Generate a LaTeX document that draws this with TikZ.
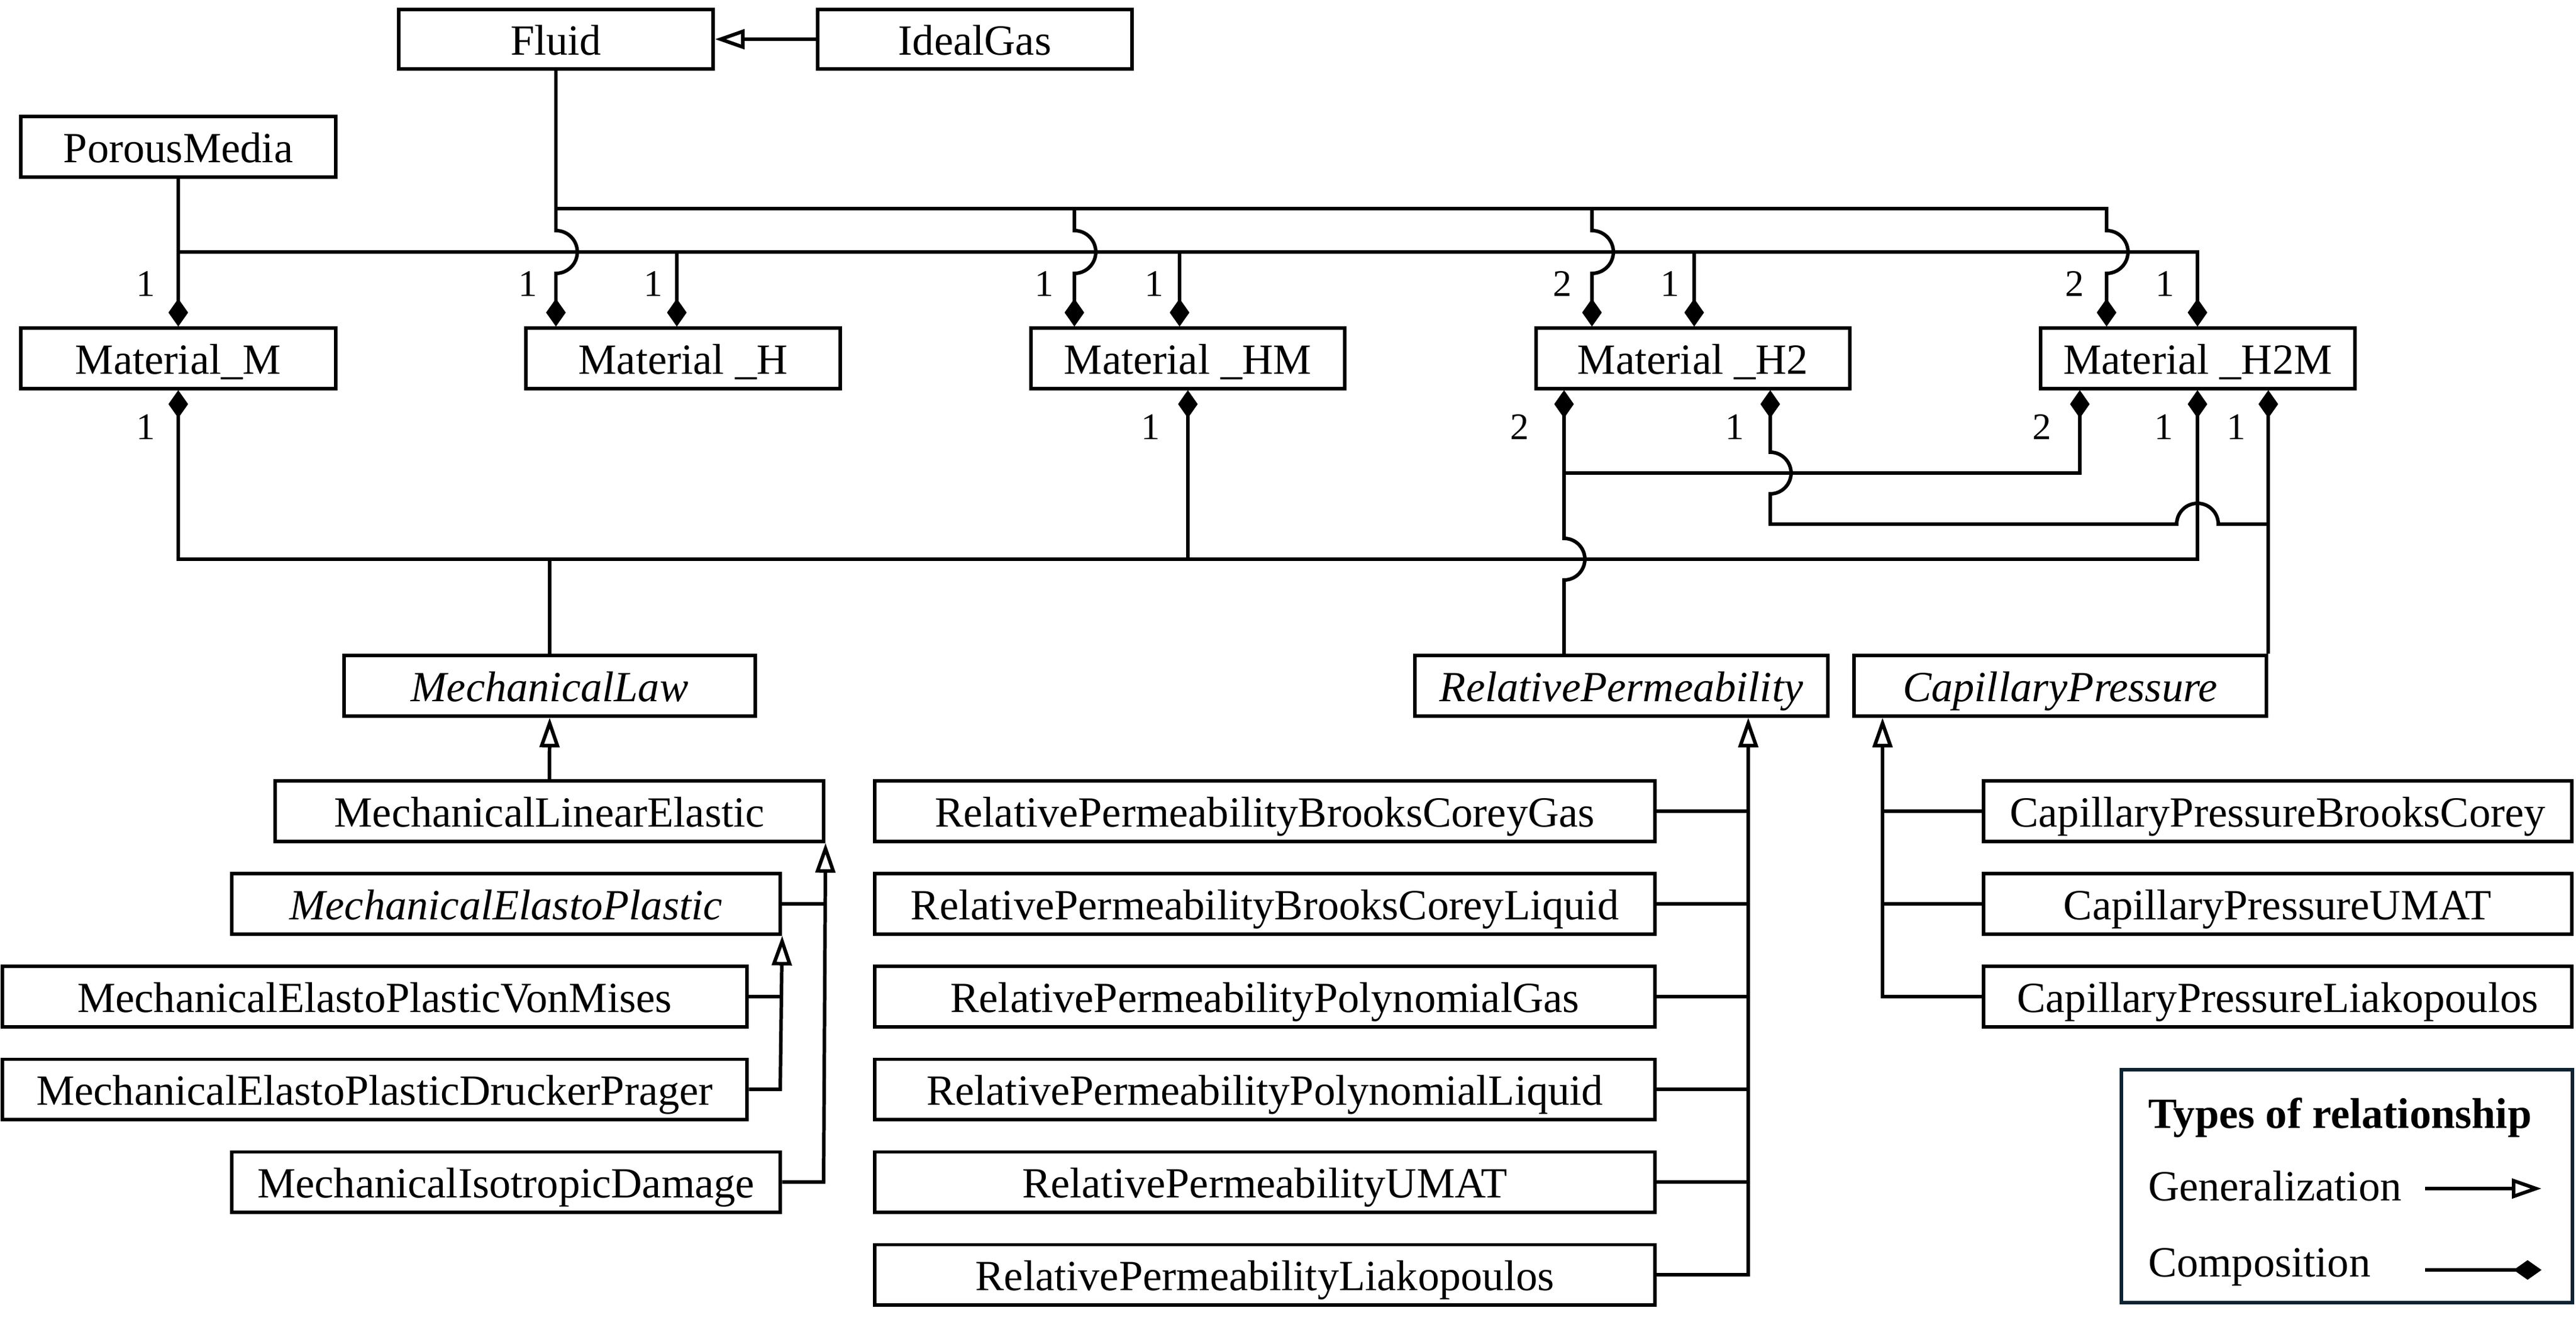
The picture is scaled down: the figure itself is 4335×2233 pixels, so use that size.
\documentclass[tikz,border=0pt]{standalone}
\usepackage{fontspec}
\setmainfont{Liberation Serif}
\usetikzlibrary{arrows.meta,calc}
\definecolor{legc}{HTML}{0B2333}
\begin{document}
\begin{tikzpicture}[x=0.01cm,y=-0.01cm, line width=1.7pt,
  box/.style={draw, inner sep=0pt, minimum height=1.01cm, text height=15pt, text depth=0pt, font=\fontsize{20.6}{24}\selectfont},
  abs/.style={box, font=\fontsize{20.6}{24}\selectfont\itshape},
  mult/.style={inner sep=0pt, font=\fontsize{18}{22}\selectfont},
  legtxt/.style={anchor=base west, inner sep=0pt, font=\fontsize{20.6}{24}\selectfont},
  comp/.style={-{Diamond[length=0.47cm,width=0.33cm]}},
  compboth/.style={{Diamond[length=0.47cm,width=0.33cm]}-{Diamond[length=0.47cm,width=0.33cm]}},
  gen/.style={-{Triangle[open,length=0.5cm,width=0.33cm]}},
  ]
\useasboundingbox (0,0) rectangle (4335,2233);

% top classes
\node[box,minimum width=5.29cm,minimum height=1.0cm] (Fluid) at (935.5,66) {Fluid};
\node[box,minimum width=5.29cm,minimum height=1.0cm] (IG) at (1640.5,66) {IdealGas};
\node[box,minimum width=5.30cm] (PM) at (300,247) {PorousMedia};
\node[box,minimum width=5.30cm] (MatM) at (300,603) {Material\_M};
\node[box,minimum width=5.29cm] (MatH) at (1149.5,603) {Material \_H};
\node[box,minimum width=5.28cm] (MatHM) at (1999,603) {Material \_HM};
\node[box,minimum width=5.28cm] (MatHtwo) at (2849,603) {Material \_H2};
\node[box,minimum width=5.29cm] (MatHtwoM) at (3698.5,603) {Material \_H2M};

% abstract laws
\node[abs,minimum width=6.92cm] (MLaw) at (925,1154) {MechanicalLaw};
\node[abs,minimum width=6.95cm] (RP) at (2728.5,1154) {RelativePermeability};
\node[abs,minimum width=6.94cm] (CP) at (3467,1154) {CapillaryPressure};

% mechanical
\node[box,minimum width=9.23cm] (LE) at (924.5,1365) {MechanicalLinearElastic};
\node[abs,minimum width=9.23cm] (EP) at (851.5,1521) {MechanicalElastoPlastic};
\node[box,minimum width=12.53cm] (VM) at (630.5,1677) {MechanicalElastoPlasticVonMises};
\node[box,minimum width=12.53cm] (DP) at (630.5,1833) {MechanicalElastoPlasticDruckerPrager};
\node[box,minimum width=9.23cm] (ID) at (851.5,1989) {MechanicalIsotropicDamage};

% relative permeability
\node[box,minimum width=13.13cm] (RPa) at (2128.5,1365) {RelativePermeabilityBrooksCoreyGas};
\node[box,minimum width=13.13cm] (RPb) at (2128.5,1521) {RelativePermeabilityBrooksCoreyLiquid};
\node[box,minimum width=13.13cm] (RPc) at (2128.5,1677) {RelativePermeabilityPolynomialGas};
\node[box,minimum width=13.13cm] (RPd) at (2128.5,1833) {RelativePermeabilityPolynomialLiquid};
\node[box,minimum width=13.13cm] (RPe) at (2128.5,1989) {RelativePermeabilityUMAT};
\node[box,minimum width=13.13cm] (RPf) at (2128.5,2145) {RelativePermeabilityLiakopoulos};

% capillary pressure
\node[box,minimum width=9.90cm] (CPa) at (3833,1365) {CapillaryPressureBrooksCorey};
\node[box,minimum width=9.90cm] (CPb) at (3833,1521) {CapillaryPressureUMAT};
\node[box,minimum width=9.90cm] (CPc) at (3833,1677) {CapillaryPressureLiakopoulos};

% ---- generalizations
\draw[gen] (IG.west) -- (Fluid.east);
\draw[gen] (LE.north) -- (MLaw.south);
\draw[gen] (ID.east) -- (1386,0 |- ID.east) -- (LE.south east);
\draw (EP.east) -- (1386,0 |- EP.east);
\draw[gen] (DP.east) -- (1313,0 |- DP.east) -- (EP.south east);
\draw (VM.east) -- (1313,0 |- VM.east);
\draw[gen] (RPf.east) -- (2942,0 |- RPf.east) -- (2942,0 |- RP.south);
\foreach \n in {RPa,RPb,RPc,RPd,RPe} \draw (\n.east) -- (2942,0 |- \n.east);
\draw[gen] (CPc.west) -- (3168,0 |- CPc.west) -- (3168,0 |- CP.south);
\foreach \n in {CPa,CPb} \draw (\n.west) -- (3168,0 |- \n.west);

% ---- compositions, upper part
\draw[comp] (Fluid.south) -- (Fluid.south |- 0,388) arc[start angle=90,end angle=-90,radius=0.36cm] -- (Fluid.south |- MatH.north);
\draw[comp] (Fluid.south |- 0,351) -- (3545,351) -- (3545,388) arc[start angle=90,end angle=-90,radius=0.36cm] -- (3545,0 |- MatHtwoM.north);
\foreach \x/\n in {1808/MatHM,2679/MatHtwo}
  \draw[comp] (\x,351) -- (\x,388) arc[start angle=90,end angle=-90,radius=0.36cm] -- (\x,0 |- \n.north);
\draw[comp] (PM.south) -- (PM.south |- MatM.north);
\draw[comp] (PM.south |- 0,424) -- (3698,424) -- (3698,0 |- MatHtwoM.north);
\foreach \x/\n in {1139/MatH,1985/MatHM,2851/MatHtwo}
  \draw[comp] (\x,424) -- (\x,0 |- \n.north);

% ---- compositions, lower part
\draw[compboth] (MatM.south) -- (MatM.south |- 0,941) -- (3698,941) -- (3698,0 |- MatHtwoM.south);
\draw[comp] (MatHM.south |- 0,941) -- (MatHM.south);
\draw (MLaw.north) -- (MLaw.north |- 0,941);
\draw[comp] (2632,0 |- RP.north) -- (2632,976) arc[start angle=-90,end angle=90,radius=0.35cm] -- (2632,0 |- MatHtwo.south);
\draw[comp] (2632,796) -- (3500,796) -- (3500,0 |- MatHtwoM.south);
\draw[comp] (CP.north east) -- (CP.north east |- MatHtwoM.south);
\draw[comp] (CP.north east |- 0,882) -- (3733,882) arc[start angle=0,end angle=180,radius=0.35cm] -- (2979,882) -- (2979,831) arc[start angle=-90,end angle=90,radius=0.35cm] -- (2979,0 |- MatHtwo.south);

% ---- multiplicities
\node[mult] (m1) at (245,478) {1};
\node[mult] (m2) at (888,478) {1};
\node[mult] (m3) at (1099,478) {1};
\node[mult] (m4) at (1757,478) {1};
\node[mult] (m5) at (1942,478) {1};
\node[mult] (m6) at (2629,478) {2};
\node[mult] (m7) at (2810,478) {1};
\node[mult] (m8) at (3491,478) {2};
\node[mult] (m9) at (3643,478) {1};
\node[mult] (n1) at (245,719) {1};
\node[mult] (n2) at (1936,719) {1};
\node[mult] (n3) at (2557,719) {2};
\node[mult] (n4) at (2919,719) {1};
\node[mult] (n5) at (3436,719) {2};
\node[mult] (n6) at (3641,719) {1};
\node[mult] (n7) at (3763,719) {1};

% ---- legend
\node[draw=legc, inner sep=0pt, minimum width=7.59cm, minimum height=3.92cm] (leg) at (3949.5,1996) {};
\node[legtxt, font=\fontsize{20.6}{24}\selectfont\bfseries] (legT) at (3612,1898) {Types of relationship};
\node[legtxt] (legG) at (3612,2020) {Generalization};
\node[legtxt] (legC) at (3612,2148) {Composition};
\coordinate (gA) at (4081,2000);
\coordinate (gB) at (4277,2000);
\coordinate (cA) at (4081,2137);
\coordinate (cB) at (4277,2137);
\draw[gen] (gA) -- (gB);
\draw[comp] (cA) -- (cB);
\end{tikzpicture}
\end{document}
